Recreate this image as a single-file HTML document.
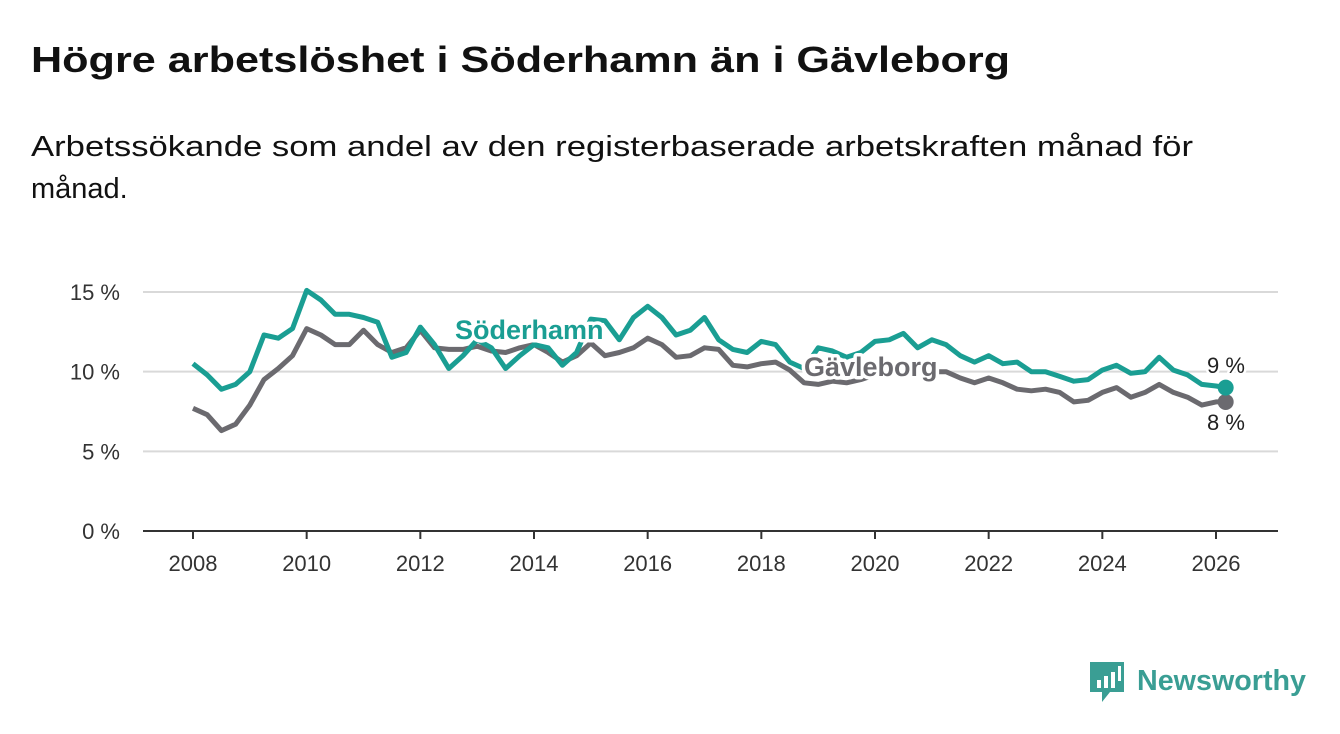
<!DOCTYPE html>
<html><head><meta charset="utf-8"><style>
html,body{margin:0;padding:0;background:#fff}
svg{display:block;font-family:"Liberation Sans",sans-serif}
</style></head><body>
<svg id="chart" width="1340" height="734" viewBox="0 0 1340 734">
<text x="31" y="72" font-size="36" font-weight="bold" fill="#111" textLength="979" lengthAdjust="spacingAndGlyphs">Högre arbetslöshet i Söderhamn än i Gävleborg</text>
<text x="31" y="156" font-size="29" fill="#111" textLength="1162" lengthAdjust="spacingAndGlyphs">Arbetssökande som andel av den registerbaserade arbetskraften månad för</text>
<text x="31" y="198" font-size="29" fill="#111">månad.</text>
<g id="grid"></g><g id="lines"></g><g id="labels"></g>
<g>
<path d="M1090 662h34v30h-14l-8 10v-10h-12z" fill="#3a9e94"/>
<rect x="1097" y="680" width="4" height="8" fill="#fff"/><rect x="1104" y="676" width="4" height="12" fill="#fff"/><rect x="1111" y="672" width="4" height="16" fill="#fff"/><rect x="1118" y="666" width="3" height="15" fill="#fff"/>
<text x="1137" y="690" font-size="29" font-weight="bold" fill="#3a9e94" textLength="169" lengthAdjust="spacingAndGlyphs">Newsworthy</text>
</g>
</svg>
<script>
const years=[2008,2010,2012,2014,2016,2018,2020,2022,2024,2026];
const yTicks=[0,5,10,15];
const startYear=2008, stepYear=0.25;
const soderhamn=[10.5,9.8,8.9,9.2,10.0,12.3,12.1,12.7,15.1,14.5,13.6,13.6,13.4,13.1,10.9,11.2,12.8,11.7,10.2,11.0,12.0,11.5,10.2,11.0,11.7,11.5,10.4,11.2,13.3,13.2,12.0,13.4,14.1,13.4,12.3,12.6,13.4,12.0,11.4,11.2,11.9,11.7,10.6,10.2,11.5,11.3,10.9,11.2,11.9,12.0,12.4,11.5,12.0,11.7,11.0,10.6,11.0,10.5,10.6,10.0,10.0,9.7,9.4,9.5,10.1,10.4,9.9,10.0,10.9,10.1,9.8,9.2,9.1,9.0];
const gavleborg=[7.7,7.3,6.3,6.7,7.9,9.5,10.2,11.0,12.7,12.3,11.7,11.7,12.6,11.7,11.2,11.5,12.6,11.5,11.4,11.4,11.6,11.3,11.2,11.5,11.7,11.2,10.6,11.0,11.8,11.0,11.2,11.5,12.1,11.7,10.9,11.0,11.5,11.4,10.4,10.3,10.5,10.6,10.1,9.3,9.2,9.4,9.3,9.5,9.8,10.0,10.2,10.0,10.0,10.0,9.6,9.3,9.6,9.3,8.9,8.8,8.9,8.7,8.1,8.2,8.7,9.0,8.4,8.7,9.2,8.7,8.4,7.9,8.1,8.1];
const lastYear=2026.17;
const NS="http://www.w3.org/2000/svg";
const X=t=>193+(t-2008)*(1216-193)/18;
const Y=v=>531-v*(531-292)/15;
function mk(tag,attrs,parent){const e=document.createElementNS(NS,tag);for(const k in attrs)e.setAttribute(k,attrs[k]);parent.appendChild(e);return e;}
const grid=document.getElementById('grid'),lines=document.getElementById('lines'),labels=document.getElementById('labels');
yTicks.forEach(v=>{
 const l=mk('line',{x1:143,x2:1278,y1:Y(v),y2:Y(v),stroke:v===0?'#333':'#d9d9d9','stroke-width':v===0?2:2},grid);
 
 
 const t=mk('text',{x:120,y:Y(v)+8,'font-size':22,fill:'#333','text-anchor':'end'},grid);t.textContent=v+' %';
 
 
});
years.forEach(yr=>{
 const l=mk('line',{x1:X(yr),x2:X(yr),y1:531,y2:539,stroke:'#333','stroke-width':2},grid);
 
 
 const t=mk('text',{x:X(yr),y:571,'font-size':22,fill:'#333','text-anchor':'middle'},grid);t.textContent=yr;
 
 
});
function tOf(i,n){return i===n-1?lastYear:startYear+i*stepYear;}
function path(arr){return arr.map((v,i)=>(i?'L':'M')+X(tOf(i,arr.length)).toFixed(1)+' '+Y(v).toFixed(1)).join(' ');}
const g=mk('path',{d:path(gavleborg),fill:'none',stroke:'#6b6a6f','stroke-width':5,'stroke-linejoin':'round'},lines);


const s=mk('path',{d:path(soderhamn),fill:'none',stroke:'#1a9e93','stroke-width':5,'stroke-linejoin':'round'},lines);


const gd=mk('circle',{cx:X(lastYear),cy:Y(gavleborg[gavleborg.length-1]),r:8,fill:'#6b6a6f'},lines);


const sd=mk('circle',{cx:X(lastYear),cy:Y(soderhamn[soderhamn.length-1]),r:8,fill:'#1a9e93'},lines);


function lbl(txt,x,y,col,size,bold,name,anchor){
 const t=mk('text',{x:x,y:y,'font-size':size,'font-weight':bold?'bold':'normal',fill:col,stroke:'#fff','stroke-width':bold?7:5,'paint-order':'stroke','stroke-linejoin':'round','text-anchor':anchor||'start'},labels);
 t.textContent=txt;
 
 
}
lbl('Söderhamn',455,339,'#1a9e93',27,true,'soderhamn-label');
lbl('Gävleborg',804,376,'#6b6a6f',27,true,'gavleborg-label');
lbl('9 %',1226,373,'#222',22,false,'soderhamn-end-value','middle');
lbl('8 %',1226,430,'#222',22,false,'gavleborg-end-value','middle');
</script>
</body></html>
